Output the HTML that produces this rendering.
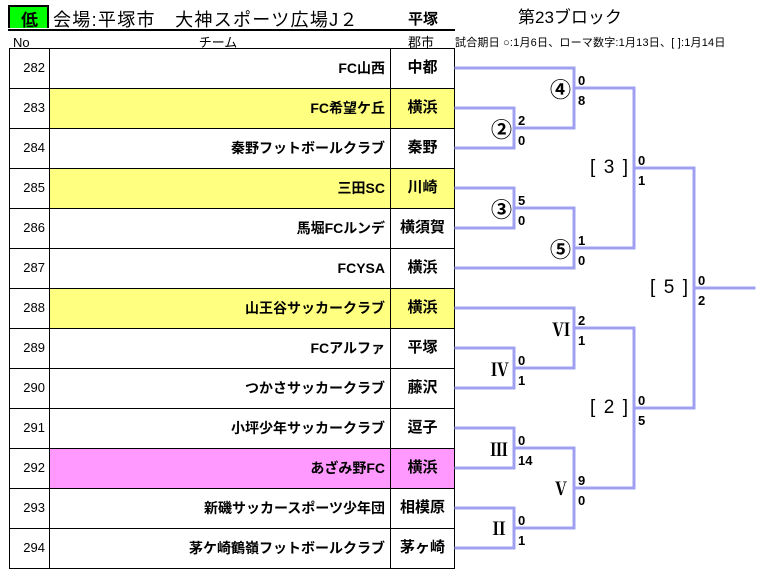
<!DOCTYPE html>
<html><head><meta charset="utf-8">
<style>
html,body{margin:0;padding:0}
body{width:764px;height:575px;background:#fff;position:relative;overflow:hidden;font-family:"Liberation Sans","Noto Sans CJK JP",sans-serif;color:#000}
.a{position:absolute;white-space:nowrap;height:20px;line-height:20px}
.hl{position:absolute;background:#000;height:1px}
.vl{position:absolute;background:#000;width:1px}
.num{position:absolute;left:10px;width:35px;text-align:right;font-size:13px;height:20px;line-height:20px}
.nm{position:absolute;left:50px;width:335px;text-align:right;font-size:14px;font-weight:bold;height:20px;line-height:20px;white-space:nowrap}
.ct{position:absolute;left:391px;width:63px;text-align:center;font-size:15px;font-weight:bold;height:20px;line-height:20px;white-space:nowrap}
.sc{position:absolute;font-size:13px;font-weight:bold;height:20px;line-height:20px;font-family:"Liberation Sans",sans-serif}
.ci{position:absolute;font-size:21px;font-weight:bold;height:24px;line-height:24px;text-align:right;font-family:"Noto Sans CJK JP",sans-serif}
.ro{position:absolute;font-size:18px;font-weight:bold;height:20px;line-height:20px;text-align:right;font-family:"Noto Serif CJK SC","Noto Sans CJK JP",serif}
.br{position:absolute;width:38px;height:24px;line-height:24px;font-size:19px;display:flex;justify-content:space-between;font-family:"Liberation Sans",sans-serif}
</style></head><body>

<!-- header -->
<div style="position:absolute;left:8px;top:5px;width:37px;height:21px;background:#00ff00;border:2px solid #000;border-bottom:none"></div>
<div class="a" style="left:9px;width:41px;top:9px;text-align:center;font-size:17px;font-weight:bold;font-family:'Noto Sans CJK JP',sans-serif">低</div>
<div class="a" style="left:53px;top:10px;font-size:18px;letter-spacing:1.3px">会場:平塚市　大神スポーツ広場J２</div>
<div class="a" style="left:408px;top:10px;font-size:15px;font-weight:bold">平塚</div>
<div style="position:absolute;left:8px;top:29px;width:447px;height:2px;background:#000"></div>
<div class="a" style="left:518px;top:8px;font-size:17px">第23ブロック</div>
<div class="a" style="left:455px;top:33px;font-size:11px;letter-spacing:0.2px">試合期日 ○:1月6日、ローマ数字:1月13日、[ ]:1月14日</div>
<div class="a" style="left:13px;top:33px;font-size:13px">No</div>
<div class="a" style="left:188px;width:60px;text-align:center;top:33px;font-size:13px">チーム</div>
<div class="a" style="left:408px;top:33px;font-size:13px">郡市</div>

<!-- row fills -->
<div style="position:absolute;left:50px;top:89px;width:404px;height:39px;background:#ffff80"></div>
<div style="position:absolute;left:50px;top:169px;width:404px;height:39px;background:#ffff80"></div>
<div style="position:absolute;left:50px;top:289px;width:404px;height:39px;background:#ffff80"></div>
<div style="position:absolute;left:50px;top:449px;width:404px;height:39px;background:#ff99ff"></div>

<!-- grid -->
<div class="hl" style="left:9px;width:446px;top:48px"></div>
<div class="hl" style="left:9px;width:446px;top:88px"></div>
<div class="hl" style="left:9px;width:446px;top:128px"></div>
<div class="hl" style="left:9px;width:446px;top:168px"></div>
<div class="hl" style="left:9px;width:446px;top:208px"></div>
<div class="hl" style="left:9px;width:446px;top:248px"></div>
<div class="hl" style="left:9px;width:446px;top:288px"></div>
<div class="hl" style="left:9px;width:446px;top:328px"></div>
<div class="hl" style="left:9px;width:446px;top:368px"></div>
<div class="hl" style="left:9px;width:446px;top:408px"></div>
<div class="hl" style="left:9px;width:446px;top:448px"></div>
<div class="hl" style="left:9px;width:446px;top:488px"></div>
<div class="hl" style="left:9px;width:446px;top:528px"></div>
<div class="hl" style="left:9px;width:446px;top:568px"></div>
<div class="vl" style="left:9px;top:48px;height:521px"></div>
<div class="vl" style="left:49px;top:48px;height:521px"></div>
<div class="vl" style="left:390px;top:48px;height:521px"></div>
<div class="vl" style="left:454px;top:48px;height:521px"></div>

<!-- rows -->
<div class="num" style="top:58px">282</div><div class="nm" style="top:58px">FC山西</div><div class="ct" style="top:58px">中都</div>
<div class="num" style="top:98px">283</div><div class="nm" style="top:98px">FC希望ケ丘</div><div class="ct" style="top:98px">横浜</div>
<div class="num" style="top:138px">284</div><div class="nm" style="top:138px">秦野フットボールクラブ</div><div class="ct" style="top:138px">秦野</div>
<div class="num" style="top:178px">285</div><div class="nm" style="top:178px">三田SC</div><div class="ct" style="top:178px">川崎</div>
<div class="num" style="top:218px">286</div><div class="nm" style="top:218px">馬堀FCルンデ</div><div class="ct" style="top:218px">横須賀</div>
<div class="num" style="top:258px">287</div><div class="nm" style="top:258px">FCYSA</div><div class="ct" style="top:258px">横浜</div>
<div class="num" style="top:298px">288</div><div class="nm" style="top:298px">山王谷サッカークラブ</div><div class="ct" style="top:298px">横浜</div>
<div class="num" style="top:338px">289</div><div class="nm" style="top:338px">FCアルファ</div><div class="ct" style="top:338px">平塚</div>
<div class="num" style="top:378px">290</div><div class="nm" style="top:378px">つかさサッカークラブ</div><div class="ct" style="top:378px">藤沢</div>
<div class="num" style="top:418px">291</div><div class="nm" style="top:418px">小坪少年サッカークラブ</div><div class="ct" style="top:418px">逗子</div>
<div class="num" style="top:458px">292</div><div class="nm" style="top:458px">あざみ野FC</div><div class="ct" style="top:458px">横浜</div>
<div class="num" style="top:498px">293</div><div class="nm" style="top:498px">新磯サッカースポーツ少年団</div><div class="ct" style="top:498px">相模原</div>
<div class="num" style="top:538px">294</div><div class="nm" style="top:538px">茅ケ崎鶴嶺フットボールクラブ</div><div class="ct" style="top:538px">茅ヶ崎</div>

<!-- bracket lines -->
<svg width="764" height="575" style="position:absolute;left:0;top:0" xmlns="http://www.w3.org/2000/svg">
<g fill="none" stroke="#a0a0f0" stroke-width="3" stroke-linecap="square" stroke-linejoin="miter">
<path d="M456 108 H514 V148 H456 M514 128 H574"/>
<path d="M456 68 H574 V128 M574 88 H634"/>
<path d="M456 188 H514 V228 H456 M514 208 H574"/>
<path d="M456 268 H574 V208 M574 248 H634"/>
<path d="M634 88 V248 M634 168 H694"/>
<path d="M456 308 H574 V368 M574 328 H634"/>
<path d="M456 348 H514 V388 H456 M514 368 H574"/>
<path d="M456 428 H514 V468 H456 M514 448 H574"/>
<path d="M456 508 H514 V548 H456 M514 528 H574"/>
<path d="M574 448 V528 M574 488 H634"/>
<path d="M634 328 V488 M634 408 H694"/>
<path d="M694 168 V408 M694 288 H754"/>
</g>
</svg>

<!-- scores -->
<div class="sc" style="left:578px;top:71px">0</div><div class="sc" style="left:578px;top:91px">8</div>
<div class="sc" style="left:518px;top:111px">2</div><div class="sc" style="left:518px;top:131px">0</div>
<div class="sc" style="left:518px;top:191px">5</div><div class="sc" style="left:518px;top:211px">0</div>
<div class="sc" style="left:578px;top:231px">1</div><div class="sc" style="left:578px;top:251px">0</div>
<div class="sc" style="left:638px;top:151px">0</div><div class="sc" style="left:638px;top:171px">1</div>
<div class="sc" style="left:698px;top:271px">0</div><div class="sc" style="left:698px;top:291px">2</div>
<div class="sc" style="left:578px;top:311px">2</div><div class="sc" style="left:578px;top:331px">1</div>
<div class="sc" style="left:518px;top:351px">0</div><div class="sc" style="left:518px;top:371px">1</div>
<div class="sc" style="left:638px;top:391px">0</div><div class="sc" style="left:638px;top:411px">5</div>
<div class="sc" style="left:518px;top:431px">0</div><div class="sc" style="left:518px;top:451px">14</div>
<div class="sc" style="left:578px;top:471px">9</div><div class="sc" style="left:578px;top:491px">0</div>
<div class="sc" style="left:518px;top:511px">0</div><div class="sc" style="left:518px;top:531px">1</div>

<!-- circled match labels -->
<div class="ci" style="right:193px;top:77px">④</div>
<div class="ci" style="right:252px;top:117px">②</div>
<div class="ci" style="right:252px;top:197px">③</div>
<div class="ci" style="right:193px;top:237px">⑤</div>

<!-- roman labels -->
<div class="ro" style="right:194px;top:319px">Ⅵ</div>
<div class="ro" style="right:255px;top:359px">Ⅳ</div>
<div class="ro" style="right:256px;top:439px">Ⅲ</div>
<div class="ro" style="right:194px;top:478px">Ⅴ</div>
<div class="ro" style="right:256px;top:518px">Ⅱ</div>

<!-- bracket labels -->
<div class="br" style="left:590px;top:156px"><span>[</span><span>3</span><span>]</span></div>
<div class="br" style="left:650px;top:276px"><span>[</span><span>5</span><span>]</span></div>
<div class="br" style="left:590px;top:396px"><span>[</span><span>2</span><span>]</span></div>

</body></html>
